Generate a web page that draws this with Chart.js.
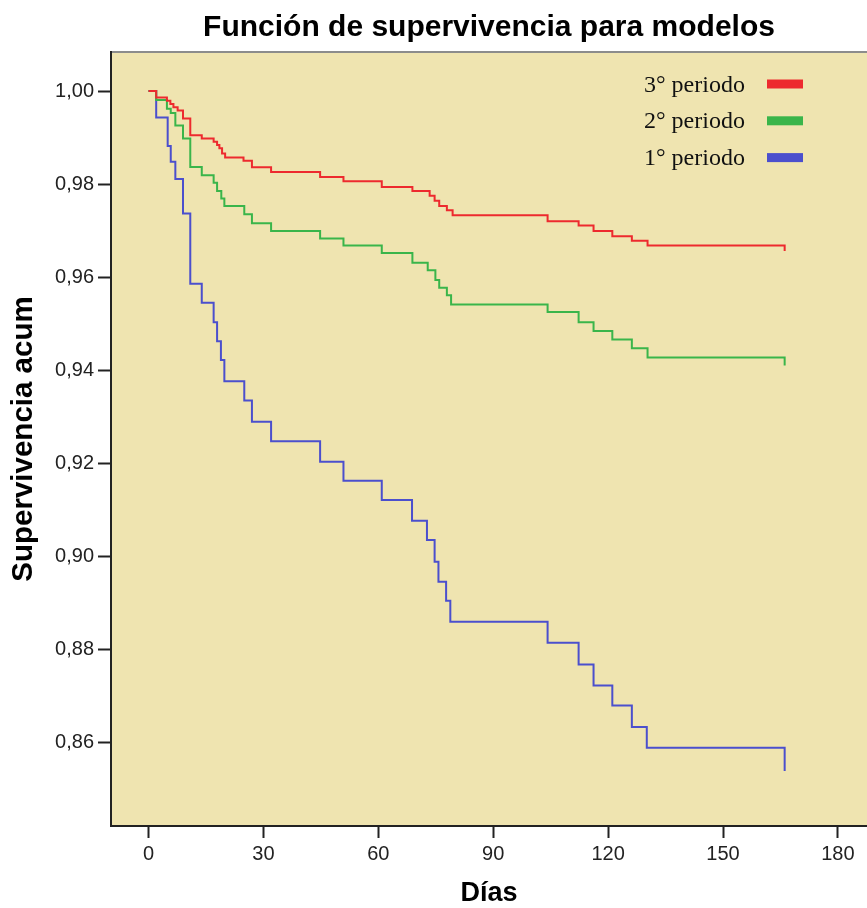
<!DOCTYPE html>
<html>
<head>
<meta charset="utf-8">
<script src="https://cdn.jsdelivr.net/npm/chart.js@4/dist/chart.umd.min.js"></script>
<style>
  html, body { margin: 0; padding: 0; background: #ffffff; }
  canvas { display: block; }
</style>
</head>
<body>
<canvas id="c" width="867" height="908"></canvas>
<script>
// ---- Data ----
const chartTitle = "Función de supervivencia para modelos";
const xTitle = "Días";
const yTitle = "Supervivencia acum";
const seriesLabels = ["3° periodo", "2° periodo", "1° periodo"];

const xTicks = [0, 30, 60, 90, 120, 150, 180];
const yTicks = [0.86, 0.88, 0.90, 0.92, 0.94, 0.96, 0.98, 1.00];

// 3° periodo
const dias3 = [0, 2, 4.8, 5.7, 6.5, 7.6, 9.0, 10.9, 13.9, 17.0, 17.9, 18.5, 19.2, 20.0, 24.8, 27.0, 32.0, 44.8, 50.9, 60.9, 68.9, 73.4, 74.7, 75.9, 77.9, 79.4, 104.2, 112.3, 116.2, 121.1, 126.2, 130.3, 166.1];
const surv3 = [1.0, 0.9986, 0.9979, 0.9972, 0.9965, 0.9958, 0.9941, 0.9905, 0.9898, 0.9891, 0.9884, 0.9877, 0.9866, 0.9857, 0.9850, 0.9836, 0.9826, 0.9815, 0.9806, 0.9794, 0.9785, 0.9775, 0.9764, 0.9753, 0.9744, 0.9733, 0.9720, 0.9711, 0.9699, 0.9688, 0.9678, 0.9668, 0.9656];

// 2° periodo
const dias2 = [0, 2, 4.8, 5.8, 7.0, 9.0, 10.9, 13.9, 17.0, 17.9, 19.0, 19.8, 25.0, 27.0, 32.0, 44.8, 50.9, 60.9, 68.9, 72.9, 74.9, 75.9, 77.9, 79.0, 104.2, 112.3, 116.2, 121.1, 126.2, 130.3, 166.1];
const surv2 = [1.0, 0.9981, 0.9962, 0.9953, 0.9926, 0.9898, 0.9837, 0.9819, 0.9803, 0.9785, 0.9769, 0.9753, 0.9735, 0.9716, 0.9699, 0.9683, 0.9668, 0.9652, 0.9631, 0.9615, 0.9594, 0.9577, 0.9561, 0.9541, 0.9525, 0.9503, 0.9484, 0.9466, 0.9447, 0.9427, 0.9410];

// 1° periodo
const dias1 = [0, 2, 5.0, 5.8, 7.0, 9.0, 10.9, 13.9, 17.0, 17.9, 18.9, 19.8, 25.0, 27.0, 32.0, 44.8, 50.9, 60.9, 68.8, 72.7, 74.7, 75.7, 77.7, 78.8, 104.2, 112.3, 116.2, 121.1, 126.2, 130.1, 166.1];
const surv1 = [1.0, 0.9943, 0.9882, 0.9848, 0.9811, 0.9737, 0.9586, 0.9545, 0.9503, 0.9462, 0.9422, 0.9376, 0.9335, 0.9289, 0.9247, 0.9203, 0.9162, 0.9121, 0.9076, 0.9035, 0.8988, 0.8945, 0.8904, 0.8859, 0.8814, 0.8767, 0.8722, 0.8679, 0.8633, 0.8588, 0.8538];

const seriesColors = ["#ED2A2E", "#3AB54A", "#4B4FCD"];

function toPoints(xs, ys) { return xs.map((x, i) => ({ x: x, y: ys[i] })); }

const plotBg = {
  id: 'plotBg',
  beforeDraw(chart) {
    const { ctx, chartArea: a } = chart;
    ctx.save();
    ctx.fillStyle = '#EFE4B0';
    ctx.fillRect(a.left, a.top, a.right - a.left, a.bottom - a.top);
    ctx.strokeStyle = '#8C8C8C';
    ctx.lineWidth = 2;
    ctx.beginPath();
    ctx.moveTo(a.left, a.top);
    ctx.lineTo(a.right, a.top);
    ctx.stroke();
    ctx.restore();
  }
};

const legendBox = {
  id: 'legendBox',
  afterDraw(chart) {
    const { ctx } = chart;
    ctx.save();
    chart.data.datasets.forEach((ds, i) => {
      const cy = 84 + i * 36.8;
      ctx.fillStyle = ds.borderColor;
      ctx.fillRect(767, cy - 4.5, 36, 9);
      ctx.fillStyle = '#111';
      ctx.font = '24px "Liberation Serif", "Times New Roman", serif';
      ctx.textAlign = 'left';
      ctx.textBaseline = 'alphabetic';
      ctx.fillText(ds.label, 644, cy + 7.5);
    });
    ctx.restore();
  }
};

new Chart(document.getElementById('c'), {
  type: 'line',
  data: {
    datasets: [
      { label: seriesLabels[0], data: toPoints(dias3, surv3), borderColor: seriesColors[0] },
      { label: seriesLabels[1], data: toPoints(dias2, surv2), borderColor: seriesColors[1] },
      { label: seriesLabels[2], data: toPoints(dias1, surv1), borderColor: seriesColors[2] }
    ].map(d => Object.assign(d, { stepped: 'before', borderWidth: 2, pointRadius: 0, fill: false, backgroundColor: d.borderColor }))
  },
  options: {
    responsive: false,
    animation: false,
    devicePixelRatio: 1,
    layout: { padding: 0 },
    plugins: {
      legend: { display: false },
      tooltip: { enabled: false },
      title: {
        display: true,
        fullSize: false,
        text: chartTitle,
        color: '#000',
        font: { family: '"Liberation Sans", Arial, sans-serif', size: 30, weight: 'bold' },
        padding: { top: 10, bottom: 6 }
      }
    },
    scales: {
      x: {
        type: 'linear',
        min: -9.8,
        max: 187.6,
        afterBuildTicks: s => { s.ticks = xTicks.map(v => ({ value: v })); },
        afterFit: s => { s.height = 82; },
        grid: { drawOnChartArea: false, drawTicks: true, tickLength: 12, tickColor: '#222', tickWidth: 2 },
        border: { display: true, color: '#222', width: 2 },
        ticks: { color: '#222', padding: 4, maxRotation: 0, font: { family: '"Liberation Sans", Arial, sans-serif', size: 20 } },
        title: { display: true, text: xTitle, color: '#000', padding: { top: 0, bottom: -2 }, font: { family: '"Liberation Sans", Arial, sans-serif', size: 27, weight: 'bold' } }
      },
      y: {
        type: 'linear',
        min: 0.842,
        max: 1.0084,
        afterBuildTicks: s => { s.ticks = yTicks.map(v => ({ value: v })); },
        afterFit: s => { s.width = 111; },
        grid: { drawOnChartArea: false, drawTicks: true, tickLength: 13, tickColor: '#222', tickWidth: 2 },
        border: { display: true, color: '#222', width: 2 },
        ticks: { color: '#222', padding: 4, font: { family: '"Liberation Sans", Arial, sans-serif', size: 20 },
          callback: v => Number(v).toFixed(2).replace('.', ',') },
        title: { display: true, text: yTitle, color: '#000', padding: { top: 6, bottom: 0 }, font: { family: '"Liberation Sans", Arial, sans-serif', size: 29.5, weight: 'bold' } }
      }
    }
  },
  plugins: [plotBg, legendBox]
});
</script>
</body>
</html>
